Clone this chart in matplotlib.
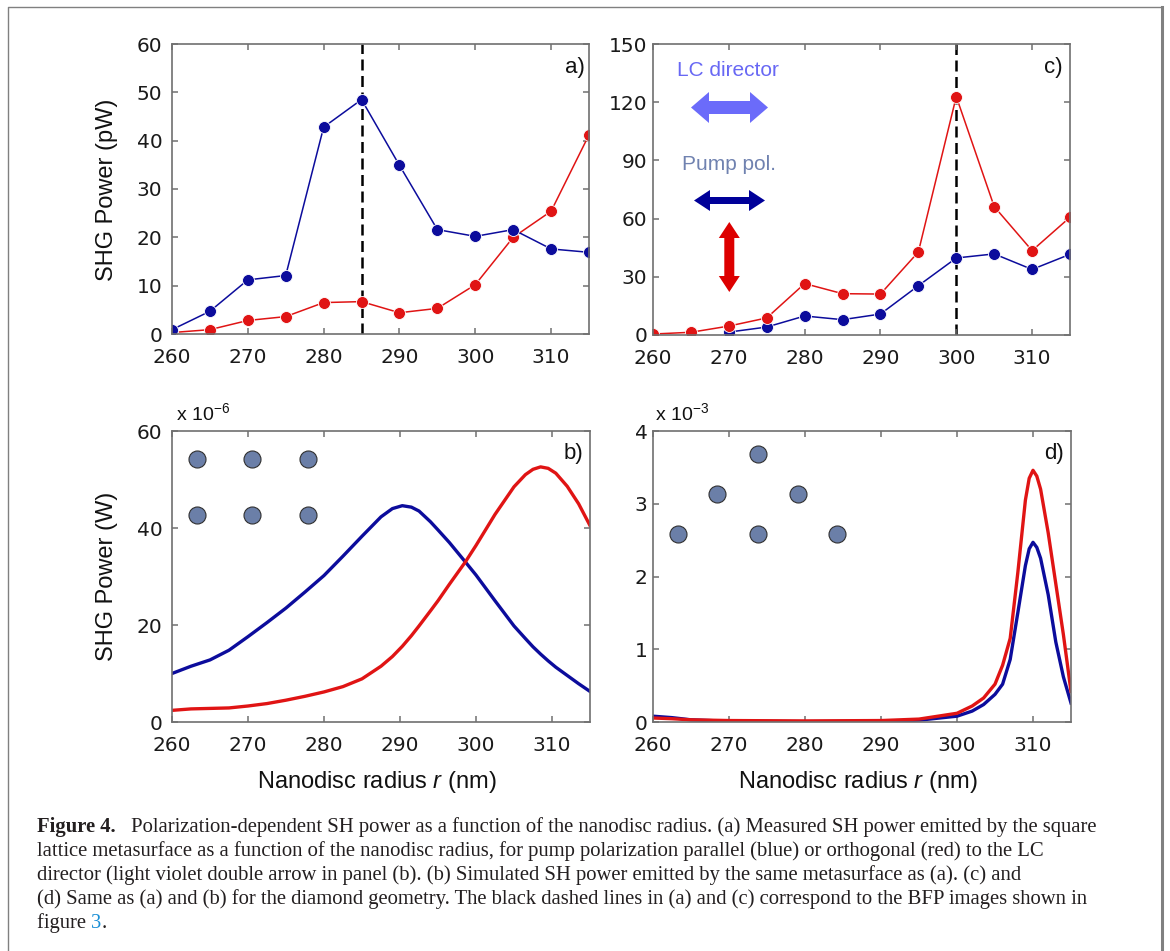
import numpy as np
from matplotlib import pyplot as plt
from matplotlib.patches import Polygon
from matplotlib.lines import Line2D

plt.rcParams['mathtext.fontset'] = 'custom'
plt.rcParams['mathtext.rm'] = 'Liberation Sans'
plt.rcParams['mathtext.it'] = 'Liberation Sans:italic'

W, H = 1170, 951
BLUE = '#0c0c9c'
RED = '#e01414'

# measured SH power (pW), panels a and c
radius = [260, 265, 270, 275, 280, 285, 290, 295, 300, 305, 310, 315]
a_blue = [0.9, 4.7, 11.2, 12.1, 42.8, 48.5, 34.9, 21.6, 20.2, 21.6, 17.6, 16.9]
a_red = [0.3, 0.9, 2.8, 3.6, 6.5, 6.7, 4.4, 5.3, 10.2, 20.0, 25.4, 41.2]
c_radius_blue = [270, 275, 280, 285, 290, 295, 300, 305, 310, 315]
c_blue = [1.5, 4.1, 9.8, 7.9, 10.8, 25.4, 39.7, 41.8, 33.8, 41.6]
c_red = [0.5, 1.4, 4.6, 8.8, 26.5, 21.3, 21.1, 42.8, 122.9, 66.2, 43.5, 60.7]

# simulated SH power, panel b (x 1e-6 W)
b_r = [260, 262.5, 265, 267.5, 270, 272.5, 275, 277.5, 280, 282.5, 285, 287.5,
       289, 290.3, 291.5, 292.5, 294, 295, 296.5, 298.6, 300, 302.5, 305,
       306.5, 307.5, 308.5, 309.5, 310.5, 312, 313.5, 315]
b_blue = [10.0, 11.5, 12.8, 14.8, 17.6, 20.5, 23.5, 26.8, 30.2, 34.2, 38.3, 42.3,
          44.0, 44.6, 44.3, 43.5, 41.3, 39.6, 37.0, 33.0, 30.3, 25.0, 19.8,
          17.2, 15.5, 14.0, 12.6, 11.3, 9.6, 7.9, 6.3]
b_red = [2.4, 2.7, 2.8, 2.9, 3.3, 3.8, 4.5, 5.3, 6.2, 7.3, 8.9, 11.5,
         13.5, 15.6, 17.8, 19.8, 22.9, 25.0, 28.4, 33.0, 36.4, 42.8, 48.5,
         51.0, 52.1, 52.6, 52.3, 51.3, 48.6, 45.0, 40.5]

# simulated SH power, panel d (x 1e-3 W)
d_r = [260, 262.5, 265, 270, 280, 290, 295, 300, 302, 303.5, 305, 306, 307, 308,
       309, 309.5, 310, 310.5, 311, 312, 313, 314, 315]
d_red = [0.055, 0.045, 0.03, 0.02, 0.015, 0.02, 0.04, 0.12, 0.22, 0.33, 0.52,
         0.78, 1.15, 2.05, 3.05, 3.35, 3.46, 3.38, 3.2, 2.6, 1.9, 1.2, 0.42]
d_blue = [0.08, 0.06, 0.03, 0.01, 0.005, 0.01, 0.025, 0.08, 0.15, 0.24, 0.38,
          0.52, 0.86, 1.5, 2.15, 2.38, 2.47, 2.4, 2.25, 1.75, 1.1, 0.62, 0.26]

xticks = [260, 270, 280, 290, 300, 310]

caption = [
    "lattice metasurface as a function of the nanodisc radius, for pump polarization parallel (blue) or orthogonal (red) to the LC",
    "director (light violet double arrow in panel (b). (b) Simulated SH power emitted by the same metasurface as (a). (c) and",
    "(d) Same as (a) and (b) for the diamond geometry. The black dashed lines in (a) and (c) correspond to the BFP images shown in",
]
caption_first = "Polarization-dependent SH power as a function of the nanodisc radius. (a) Measured SH power emitted by the square"


def fx(x):
    return x / W


def fy(y):
    return 1 - y / H


fig = plt.figure(figsize=(W / 100, H / 100), dpi=100)


def make_axes(l, t, r, b, ylim, yticks, ypad):
    ax = fig.add_axes([fx(l), fy(b), (r - l) / W, (b - t) / H])
    ax.set_xlim(260, 315)
    ax.set_ylim(*ylim)
    ax.set_xticks(xticks)
    ax.set_yticks(yticks)
    for s in ax.spines.values():
        s.set_color('#707070')
        s.set_linewidth(1.2)
    ax.tick_params(direction='in', length=4, width=1.1, color='#707070',
                   labelcolor='#1a1a1a', labelsize=14.5, top=True, right=True)
    ax.tick_params(axis='x', pad=10)
    ax.tick_params(axis='y', pad=ypad)
    return ax


ax_a = make_axes(172, 44, 589, 334, (0, 60), range(0, 61, 10), 7)
ax_c = make_axes(653, 44, 1070, 335, (0, 150), range(0, 151, 30), 4)
ax_b = make_axes(172, 431, 590, 722, (0, 60), range(0, 61, 20), 7)
ax_d = make_axes(653, 431, 1071, 722, (0, 4), range(0, 5), 4)

mk = dict(marker='o', markersize=8.6, markeredgecolor='white', markeredgewidth=0.6, lw=1.1)
ax_a.plot(radius, a_red, color=RED, **mk)
ax_a.plot(radius, a_blue, color=BLUE, **mk)
ax_c.plot(c_radius_blue, c_blue, color=BLUE, **mk)
ax_c.plot(radius, c_red, color=RED, **mk)
ax_a.axvline(285, color='black', lw=1.8, ls=(0, (4.4, 2.2)), zorder=1)
ax_c.axvline(300, color='black', lw=1.8, ls=(0, (4.4, 2.2)), zorder=1)

ax_b.plot(b_r, b_blue, color=BLUE, lw=2.4)
ax_b.plot(b_r, b_red, color=RED, lw=2.4)
ax_d.plot(d_r, d_blue, color=BLUE, lw=2.4)
ax_d.plot(d_r, d_red, color=RED, lw=2.4)

lab = dict(family='Liberation Sans', fontsize=16, color='#111111', ha='right', va='top')
ax_a.text(0.99, 0.955, 'a)', transform=ax_a.transAxes, **lab)
ax_c.text(0.983, 0.955, 'c)', transform=ax_c.transAxes, **lab)
ax_b.text(0.985, 0.96, 'b)', transform=ax_b.transAxes, **lab)
ax_d.text(0.983, 0.96, 'd)', transform=ax_d.transAxes, **lab)

# lattice sketches
circ = dict(s=150, color='#6b7fa8', edgecolor='#303030', linewidth=0.8, clip_on=False, zorder=5)
ax_b.scatter([0.059, 0.192, 0.326] * 2, [0.904] * 3 + [0.711] * 3,
             transform=ax_b.transAxes, **circ)
ax_d.scatter([0.0606, 0.154, 0.250, 0.250, 0.346, 0.441],
             [0.646, 0.782, 0.92, 0.646, 0.782, 0.646],
             transform=ax_d.transAxes, **circ)

# axis labels
sans = dict(family='Liberation Sans', color='#111111')
fig.text(fx(107), fy(190), 'SHG Power (pW)', rotation=90, ha='center', va='center', fontsize=17, **sans)
fig.text(fx(107), fy(576), 'SHG Power (W)', rotation=90, ha='center', va='center', fontsize=17, **sans)
fig.text(fx(377), fy(782), 'Nanodisc radius $r$ (nm)', ha='center', va='center', fontsize=17, **sans)
fig.text(fx(858), fy(782), 'Nanodisc radius $r$ (nm)', ha='center', va='center', fontsize=17, **sans)
fig.text(fx(176), fy(413), 'x 10$^{-6}$', ha='left', va='center', fontsize=14, **sans)
fig.text(fx(655), fy(413), 'x 10$^{-3}$', ha='left', va='center', fontsize=14, **sans)

# polarization arrows in panel c
fig.text(fx(728), fy(71), 'LC director', ha='center', va='center', fontsize=15,
         family='Liberation Sans', color='#6868f4')
fig.text(fx(729), fy(165), 'Pump pol.', ha='center', va='center', fontsize=15,
         family='Liberation Sans', color='#7082b0')


def double_arrow(a0, a1, c, shaft, head_w, head_l, color, vertical=False):
    pts = [(a0, c), (a0 + head_l, c - head_w / 2), (a0 + head_l, c - shaft / 2),
           (a1 - head_l, c - shaft / 2), (a1 - head_l, c - head_w / 2), (a1, c),
           (a1 - head_l, c + head_w / 2), (a1 - head_l, c + shaft / 2),
           (a0 + head_l, c + shaft / 2), (a0 + head_l, c + head_w / 2)]
    if vertical:
        pts = [(q, p) for p, q in pts]
    fig.add_artist(Polygon([(fx(p), fy(q)) for p, q in pts], closed=True,
                           transform=fig.transFigure, color=color, lw=0))


double_arrow(691, 768, 107.5, 13, 31, 18, '#6b6bfa')
double_arrow(694, 765, 200.5, 7, 21, 16, '#000099')
double_arrow(222, 292, 729.3, 10, 21, 16, '#dd0000', vertical=True)

# page frame
fig.add_artist(Line2D([fx(8), fx(8), fx(1162)], [0, fy(7), fy(7)],
                      transform=fig.transFigure, color='#808080', lw=1))
fig.add_artist(Line2D([fx(1162), fx(1162)], [fy(7), 0],
                      transform=fig.transFigure, color='#808080', lw=2.2))

# caption
serif = dict(family='Liberation Serif', color='#231f20', va='baseline', ha='left')
fs = 14
r = fig.canvas.get_renderer()
probe = fig.text(fx(37), fy(904), caption[2], fontsize=fs, **serif)
w = probe.get_window_extent(r).width
fs = fs * 1113 / w * 0.95
probe.set_fontsize(fs)

bold = fig.text(fx(37), fy(832), 'Figure 4.', fontsize=fs, fontweight='bold', **serif)
x1 = bold.get_window_extent(r).x1
fig.text(fx(x1 + 15), fy(832), caption_first, fontsize=fs, **serif)
fig.text(fx(37), fy(856), caption[0], fontsize=fs, **serif)
fig.text(fx(37), fy(880), caption[1], fontsize=fs, **serif)
t5 = fig.text(fx(37), fy(928), 'figure ', fontsize=fs, **serif)
x1 = t5.get_window_extent(r).x1
t6 = fig.text(fx(x1), fy(928), '3', fontsize=fs, family='Liberation Serif',
              color='#1a8fd6', va='baseline', ha='left')
x1 = t6.get_window_extent(r).x1
fig.text(fx(x1), fy(928), '.', fontsize=fs, **serif)

plt.savefig('out.png', dpi=100)
